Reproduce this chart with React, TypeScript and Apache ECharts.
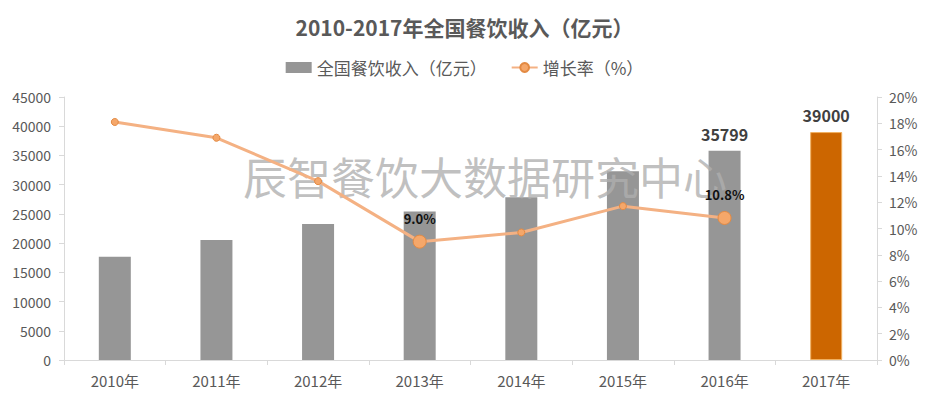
import React, { useEffect, useRef } from "react";
import * as echarts from "echarts";

const categories = ["2010年", "2011年", "2012年", "2013年", "2014年", "2015年", "2016年", "2017年"];
const revenue = [17648, 20543, 23283, 25392, 27860, 32310, 35799, 39000];
const growth = [18.1, 16.9, 13.6, 9.0, 9.7, 11.7, 10.8, null];
const revenueLabeled = ["2016年", "2017年"];
const growthLabeled = ["2013年", "2016年"];
const forecastYear = "2017年";

const TEXT = "#595959";
const FONT = "'Noto Sans CJK SC', 'Open Sans', sans-serif";

export default function App() {
  const ref = useRef<HTMLDivElement>(null);
  useEffect(() => {
    if (!ref.current) return;
    const chart = echarts.init(ref.current, null, { renderer: "svg" });
    const barData = revenue.map((v, i) => {
      const item: any = { value: v };
      if (categories[i] === forecastYear) {
        item.itemStyle = { color: "#CC6600", borderColor: "#F0B060", borderWidth: 1 };
      }
      if (revenueLabeled.includes(categories[i])) {
        item.label = {
          show: true,
          position: "top",
          distance: 9,
          fontSize: 16,
          fontWeight: "bold",
          color: "#404040",
          fontFamily: FONT,
        };
      }
      return item;
    });
    const lineData = growth.map((v, i) => {
      const item: any = { value: v };
      if (growthLabeled.includes(categories[i])) {
        item.symbolSize = 13;
        item.label = {
          show: true,
          position: "top",
          distance: 10,
          fontSize: 13,
          fontWeight: "bold",
          color: "#111",
          fontFamily: FONT,
          formatter: (p: any) => Number(p.value).toFixed(1) + "%",
        };
      }
      return item;
    });
    chart.setOption({
      animation: false,
      backgroundColor: "#fff",
      title: {
        text: "2010-2017年全国餐饮收入（亿元）",
        left: "center",
        top: 11,
        textStyle: { fontSize: 21, fontWeight: "bold", color: TEXT, fontFamily: FONT },
      },
      legend: {
        top: 54,
        left: "center",
        itemGap: 24,
        itemWidth: 26,
        itemHeight: 11,
        textStyle: { fontSize: 17, color: TEXT, fontFamily: FONT },
        data: [
          { name: "全国餐饮收入（亿元）", icon: "rect" },
          { name: "增长率（%）" },
        ],
      },
      grid: { left: 64, right: 52, top: 97, bottom: 40 },
      xAxis: {
        type: "category",
        data: categories,
        axisLine: { lineStyle: { color: "#d9d9d9" } },
        axisTick: { show: true, length: 5, lineStyle: { color: "#d9d9d9" } },
        axisLabel: { fontSize: 15, color: TEXT, fontFamily: FONT, margin: 13 },
      },
      yAxis: [
        {
          type: "value",
          min: 0,
          max: 45000,
          interval: 5000,
          axisLine: { show: true, lineStyle: { color: "#d9d9d9" } },
          axisTick: { show: true, length: 5, lineStyle: { color: "#d9d9d9" } },
          splitLine: { show: false },
          axisLabel: {
            fontSize: 14,
            color: TEXT,
            fontFamily: FONT,
            margin: 13,
            formatter: (v: number) => String(v),
          },
        },
        {
          type: "value",
          min: 0,
          max: 20,
          interval: 2,
          axisLine: { show: true, lineStyle: { color: "#d9d9d9" } },
          axisTick: { show: true, length: 5, lineStyle: { color: "#d9d9d9" } },
          splitLine: { show: false },
          axisLabel: { fontSize: 14, color: TEXT, fontFamily: FONT, margin: 12, formatter: "{value}%" },
        },
      ],
      series: [
        {
          name: "全国餐饮收入（亿元）",
          type: "bar",
          data: barData,
          barWidth: 32,
          itemStyle: { color: "#969696" },
          z: 2,
        },
        {
          name: "增长率（%）",
          type: "line",
          yAxisIndex: 1,
          data: lineData,
          symbol: "circle",
          symbolSize: 7,
          lineStyle: { color: "#F4B183", width: 3 },
          itemStyle: { color: "#F5A76A", borderColor: "#E38A43", borderWidth: 1 },
          z: 5,
        },
      ],
      graphic: [
        {
          type: "text",
          left: 243,
          top: 154,
          z: 3,
          style: {
            text: "辰智餐饮大数据研究中心",
            fontSize: 44,
            fontFamily: FONT,
            fill: "rgba(175,175,175,0.78)",
          },
        },
      ],
    });
    return () => chart.dispose();
  }, []);
  return <div ref={ref} style={{ width: 929, height: 400, margin: -8 }} />;
}
